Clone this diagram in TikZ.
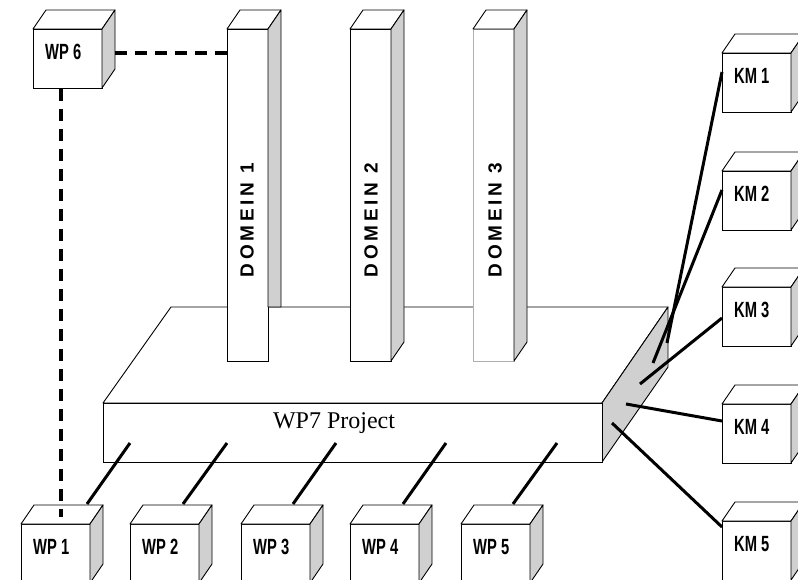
\documentclass[tikz,border=0pt]{standalone}
\usepackage{fontspec}
\setmainfont{Liberation Serif}
\newfontfamily\boxfont[FakeStretch=0.67]{Liberation Sans}
\newfontfamily\domfont[LetterSpace=20]{Liberation Sans}
\usetikzlibrary{positioning}
\usetikzlibrary{calc}
\definecolor{sidegray}{RGB}{208,208,208}
\definecolor{palegray}{RGB}{175,175,175}

% top and right faces of a box whose front face is node #1
\newcommand{\boxsides}[1]{%
\draw[face] (#1.north west) -- ++(13,-19) -- ($(#1.north east)+(13,-19)$) -- (#1.north east) -- cycle;
\draw[face, fill=sidegray] (#1.north east) -- ++(13,-19) -- ($(#1.south east)+(13,-19)$) -- (#1.south east) -- cycle;
}
% small box with its name written in it
\newcommand{\smallbox}[4]{%
\node[boxfront] (#1) at (#2,#3) {};
\boxsides{#1}
\node[boxlabel] (#1-l) at ($(#1.north west)+(12,23)$) {#4};
}

\begin{document}
\begin{tikzpicture}[x=1pt, y=-1pt,
face/.style={draw=black, fill=white, line width=0.9pt, line join=round},
boxfront/.style={draw=black, fill=white, line width=0.9pt, inner sep=0pt, outer sep=0pt, minimum width=69pt, minimum height=59pt, anchor=north west},
pillar/.style={boxfront, minimum width=41pt, minimum height=332pt},
boxlabel/.style={anchor=west, inner sep=0pt, font=\boxfont\bfseries\fontsize{22}{22}\selectfont},
domlabel/.style={rotate=90, inner sep=0pt, font=\domfont\bfseries\fontsize{19}{19}\selectfont},
link/.style={line width=3pt},
dashlink/.style={line width=3.4pt, dash pattern=on 12pt off 8pt}]
\useasboundingbox (0,0) rectangle (798,580);

% the project platform
\draw[face] (103,403) -- (171,307) -- (668,307) -- (602,403) -- cycle;
\draw[face, fill=sidegray] (602,403) -- (668,307) -- (668,367) -- (602,462) -- cycle;
\node[boxfront, minimum width=499pt] (proj) at (103,403) {};
\node[anchor=base, inner sep=0pt, font=\fontsize{24}{24}\selectfont] (proj-l) at (334,428) {WP7 Project};

% domains
\node[pillar] (dom1) at (227,29) {};
\draw[face] (dom1.north west) -- ++(13,-19) -- ($(dom1.north east)+(13,-19)$) -- (dom1.north east) -- cycle;
\draw[face, fill=sidegray] (dom1.north east) -- ++(13,-19) -- (281,307) -- (268,307) -- cycle;
\node[domlabel] (dom1-l) at (247,220) {DOMEIN 1};

\node[pillar] (dom2) at (350,29) {};
\boxsides{dom2}
\node[domlabel] (dom2-l) at (371,220) {DOMEIN 2};

\node[pillar, draw=palegray] (dom3) at (473,29) {};
\boxsides{dom3}
\node[domlabel] (dom3-l) at (495,220) {DOMEIN 3};

% work packages and knowledge boxes
\smallbox{wp6}{33}{29}{WP 6}
\smallbox{wp1}{21}{524}{WP 1}
\smallbox{wp2}{130}{524}{WP 2}
\smallbox{wp3}{241}{524}{WP 3}
\smallbox{wp4}{350}{524}{WP 4}
\smallbox{wp5}{461}{524}{WP 5}
\smallbox{km1}{722}{53}{KM 1}
\smallbox{km2}{722}{171}{KM 2}
\smallbox{km3}{722}{287}{KM 3}
\smallbox{km4}{722}{404}{KM 4}
\smallbox{km5}{722}{521}{KM 5}

% links out of the platform
\coordinate (pw1) at (130,443);
\coordinate (pw2) at (227,443);
\coordinate (pw3) at (336,443);
\coordinate (pw4) at (446,443);
\coordinate (pw5) at (557,443);
\coordinate (pk1) at (667,343);
\coordinate (pk2) at (653,363);
\coordinate (pk3) at (640,384);
\coordinate (pk4) at (626,404);
\coordinate (pk5) at (612,423);

\draw[link] (pw1) -- ($(wp1.north west)+(66,-20)$);
\draw[link] (pw2) -- ($(wp2.north west)+(53,-20)$);
\draw[link] (pw3) -- ($(wp3.north west)+(52,-20)$);
\draw[link] (pw4) -- ($(wp4.north west)+(53,-20)$);
\draw[link] (pw5) -- ($(wp5.north west)+(52,-20)$);
\draw[link] (pk1) -- ($(km1.north west)+(0,19)$);
\draw[link] (pk2) -- ($(km2.north west)+(0,19)$);
\draw[link] (pk3) -- ($(km3.north west)+(0,31)$);
\draw[link] (pk4) -- ($(km4.north west)+(0,17)$);
\draw[link] (pk5) -- ($(km5.north west)+(0,6)$);

% WP 6 links
\draw[dashlink] ($(wp6.north east)+(13,24)$) -- ($(dom1.north west)+(0,24)$);
\draw[dashlink] ($(wp6.south west)+(28,1)$) -- ($(wp1.north west)+(40,-7)$);
\end{tikzpicture}
\end{document}
